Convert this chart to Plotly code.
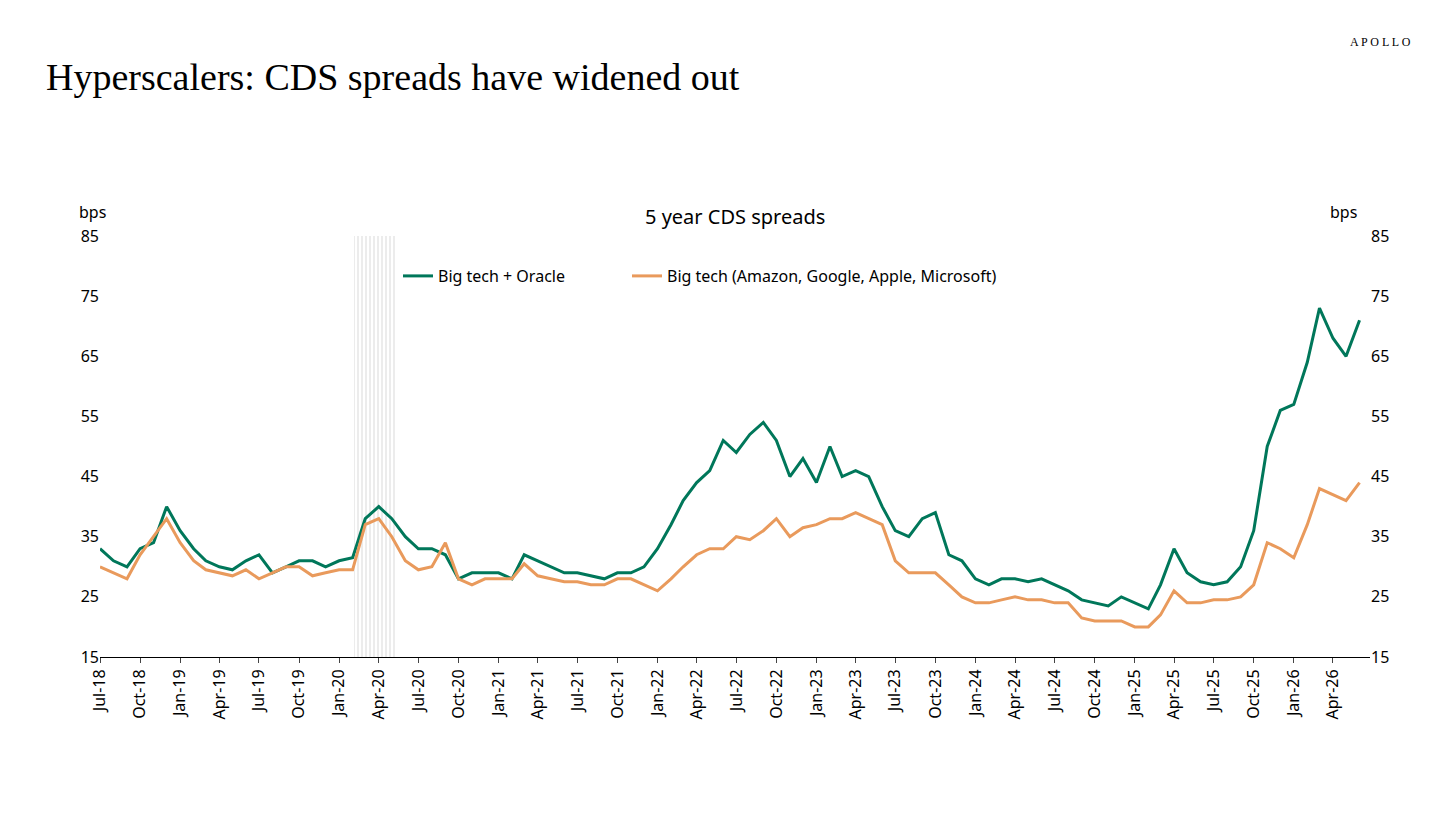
import plotly.graph_objects as go
import pandas as pd

months = pd.date_range("2018-07-01", "2026-06-01", freq="MS")
big_tech_oracle = [33,31,30,33,34,40,36,33,31,30,29.5,31,32,29,30,31,31,30,31,31.5,38,40,38,35,
                   33,33,32,28,29,29,29,28,32,31,30,29,29,28.5,28,29,29,30,33,37,41,44,46,51,
                   49,52,54,51,45,48,44,50,45,46,45,40,36,35,38,39,32,31,28,27,28,28,27.5,28,
                   27,26,24.5,24,23.5,25,24,23,27,33,29,27.5,27,27.5,30,36,50,56,57,64,73,68,65,71]
big_tech = [30,29,28,32,35,38,34,31,29.5,29,28.5,29.5,28,29,30,30,28.5,29,29.5,29.5,37,38,35,31,
            29.5,30,34,28,27,28,28,28,30.5,28.5,28,27.5,27.5,27,27,28,28,27,26,28,30,32,33,33,
            35,34.5,36,38,35,36.5,37,38,38,39,38,37,31,29,29,29,27,25,24,24,24.5,25,24.5,24.5,
            24,24,21.5,21,21,21,20,20,22,26,24,24,24.5,24.5,25,27,34,33,31.5,37,43,42,41,44]
recession = ["2020-02-05", "2020-05-10"]

r0, r1 = pd.Timestamp(recession[0]), pd.Timestamp(recession[1])
fig = go.Figure()
fig.add_trace(go.Bar(x=[r0 + (r1 - r0) / 2], y=[70], base=[15],
                     width=[(r1 - r0).total_seconds() * 1000],
                     marker=dict(color="rgba(0,0,0,0)", line=dict(width=0),
                                 pattern=dict(shape="|", fgcolor="#c0c0c0", bgcolor="white", size=4, solidity=0.3)),
                     showlegend=False, hoverinfo="skip"))
fig.add_trace(go.Scatter(x=months, y=big_tech_oracle, name="Big tech + Oracle",
                         line=dict(color="#00775a", width=3), legend="legend"))
fig.add_trace(go.Scatter(x=months, y=big_tech, name="Big tech (Amazon, Google, Apple, Microsoft)",
                         line=dict(color="#e99a5c", width=3), legend="legend2"))
fig.add_trace(go.Scatter(x=months, y=big_tech, yaxis="y2", showlegend=False,
                         line=dict(width=0), opacity=0, hoverinfo="skip"))

L, R, T, B = 92, 94, 228, 170
W, H = 1456 - L - R, 819 - T - B
ox, oy = 8, 8  # page offset
def px(x): return (x - ox - L) / W
def py(y): return (819 - B - (y - oy)) / H

fig.update_layout(
    width=1456, height=819, paper_bgcolor="white", plot_bgcolor="white",
    margin=dict(l=L, r=R, t=T, b=B, autoexpand=False),
    font=dict(family="Noto Sans", size=16, color="black"),
    xaxis=dict(range=["2018-07-01", "2026-06-25"], tickformat="%b-%y", dtick="M3",
               tick0="2018-07-01", tickangle=-90, ticks="outside", ticklen=5,
               showline=True, linecolor="black", showgrid=False, automargin=False),
    yaxis=dict(range=[15, 85], dtick=10, tick0=15, showgrid=False, zeroline=False, ticks="",
               automargin=False),
    yaxis2=dict(range=[15, 85], dtick=10, tick0=15, overlaying="y", side="right", showgrid=False,
                zeroline=False, automargin=False),
    legend=dict(orientation="h", x=px(398), y=py(276), xanchor="left", yanchor="middle",
                font=dict(family="Noto Sans", size=16), bgcolor="rgba(0,0,0,0)"),
    legend2=dict(orientation="h", x=px(627), y=py(276), xanchor="left", yanchor="middle",
                 font=dict(family="Noto Sans", size=16), bgcolor="rgba(0,0,0,0)"),
    showlegend=True, bargap=0,
)
fig.add_annotation(text="Hyperscalers: CDS spreads have widened out", x=px(44), y=py(77),
                   xref="paper", yref="paper", xanchor="left", yanchor="middle", showarrow=False,
                   font=dict(family="Liberation Serif", size=38, color="black"))
fig.add_annotation(text="A P O L L O", x=px(1413), y=py(42), xref="paper", yref="paper",
                   xanchor="right", yanchor="middle", showarrow=False,
                   font=dict(family="Liberation Serif", size=12, color="black"))
fig.add_annotation(text="5 year CDS spreads", x=0.5, y=py(216), xref="paper", yref="paper",
                   showarrow=False, yanchor="middle", font=dict(family="Noto Sans", size=20))
fig.add_annotation(text="bps", x=px(77), y=py(212), xref="paper", yref="paper",
                   showarrow=False, yanchor="middle", font=dict(size=16))
fig.add_annotation(text="bps", x=px(1359), y=py(212), xref="paper", yref="paper",
                   showarrow=False, yanchor="middle", font=dict(size=16))
fig.write_html("out.html")
